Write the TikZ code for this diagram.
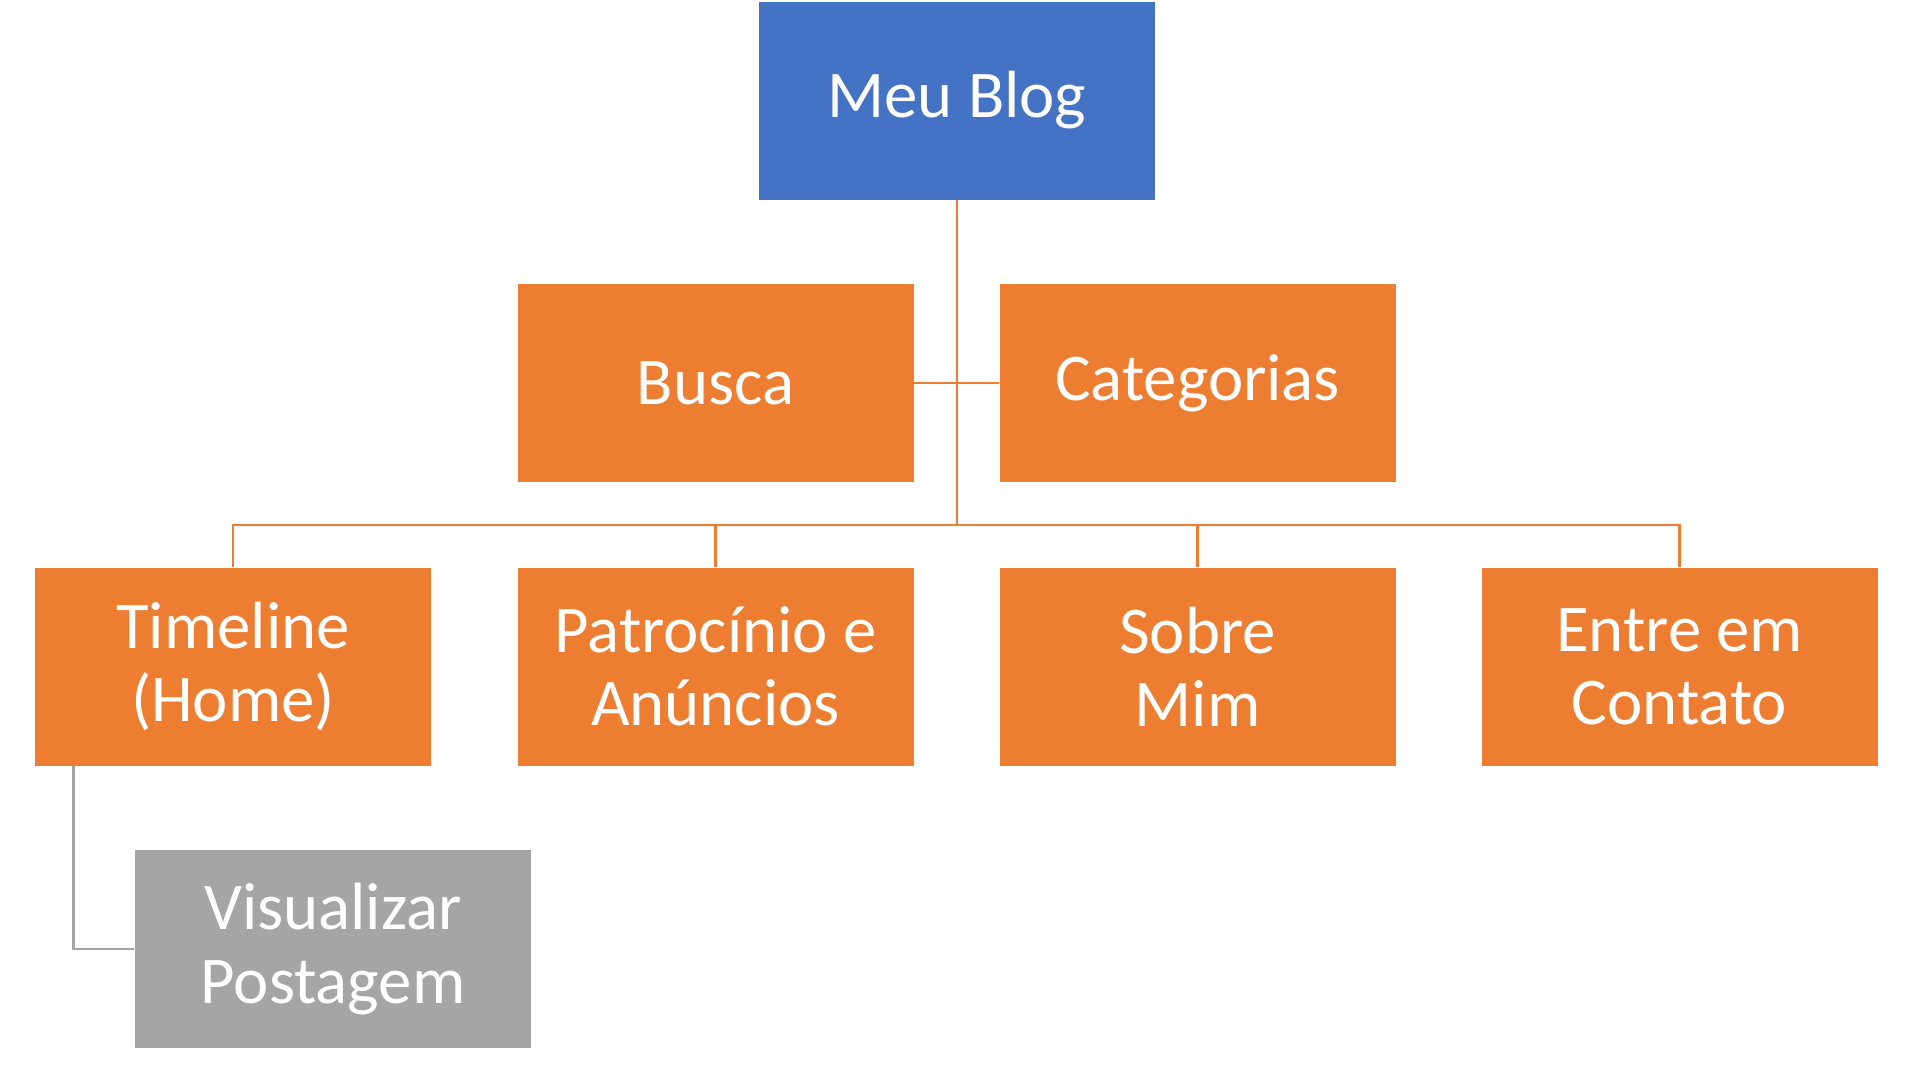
\documentclass[tikz,border=0pt]{standalone}
\usepackage{fontspec}
\setmainfont{Carlito}
\usepackage{tikz}
\usetikzlibrary{positioning,calc}
\usepackage{xcolor}
\definecolor{blogblue}{RGB}{68,114,196}
\definecolor{blogorange}{RGB}{237,125,49}
\definecolor{bloggrey}{RGB}{165,165,165}

\begin{document}
\begin{tikzpicture}[
    pagebox/.style={rectangle, minimum width=3.96cm, minimum height=1.98cm, inner sep=2pt,
        align=center, text=white, font=\fontsize{19}{20.8}\selectfont},
    topbox/.style={pagebox, fill=blogblue},
    subbox/.style={pagebox, fill=blogorange},
    postbox/.style={pagebox, fill=bloggrey},
    orgline/.style={blogorange, line width=0.8pt},
    postline/.style={bloggrey, line width=0.8pt}
]
\useasboundingbox (0,0) rectangle (19.14,-10.65);
% topo
\node[topbox] (blog) at (9.57,-1.005) {Meu Blog};
% auxiliares
\node[subbox] (busca) at (7.155,-3.83) {Busca};
\node[subbox] (categ) at (11.975,-3.83) {Categorias};
% paginas
\node[subbox] (timeline) at (2.33,-6.665) {Timeline\\(Home)};
\node[subbox] (patro) at (7.155,-6.665) {Patrocínio e\\Anúncios};
\node[subbox] (sobre) at (11.975,-6.665) {Sobre\\Mim};
\node[subbox] (contato) at (16.795,-6.665) {Entre em\\Contato};
% postagem
\node[postbox] (visual) at (3.33,-9.49) {Visualizar\\Postagem};
% ligacoes
\coordinate (bus) at (9.57,-5.25);
\draw[orgline] (blog.south) -- (bus);
\draw[orgline] (busca.east) -- (categ.west);
\draw[orgline] (timeline.north) |- (bus) -| (contato.north);
\draw[orgline] (patro.north) -- (patro.north |- bus);
\draw[orgline] (sobre.north) -- (sobre.north |- bus);
\draw[postline] ([xshift=0.39cm]timeline.south west) |- (visual.west);
\end{tikzpicture}
\end{document}
